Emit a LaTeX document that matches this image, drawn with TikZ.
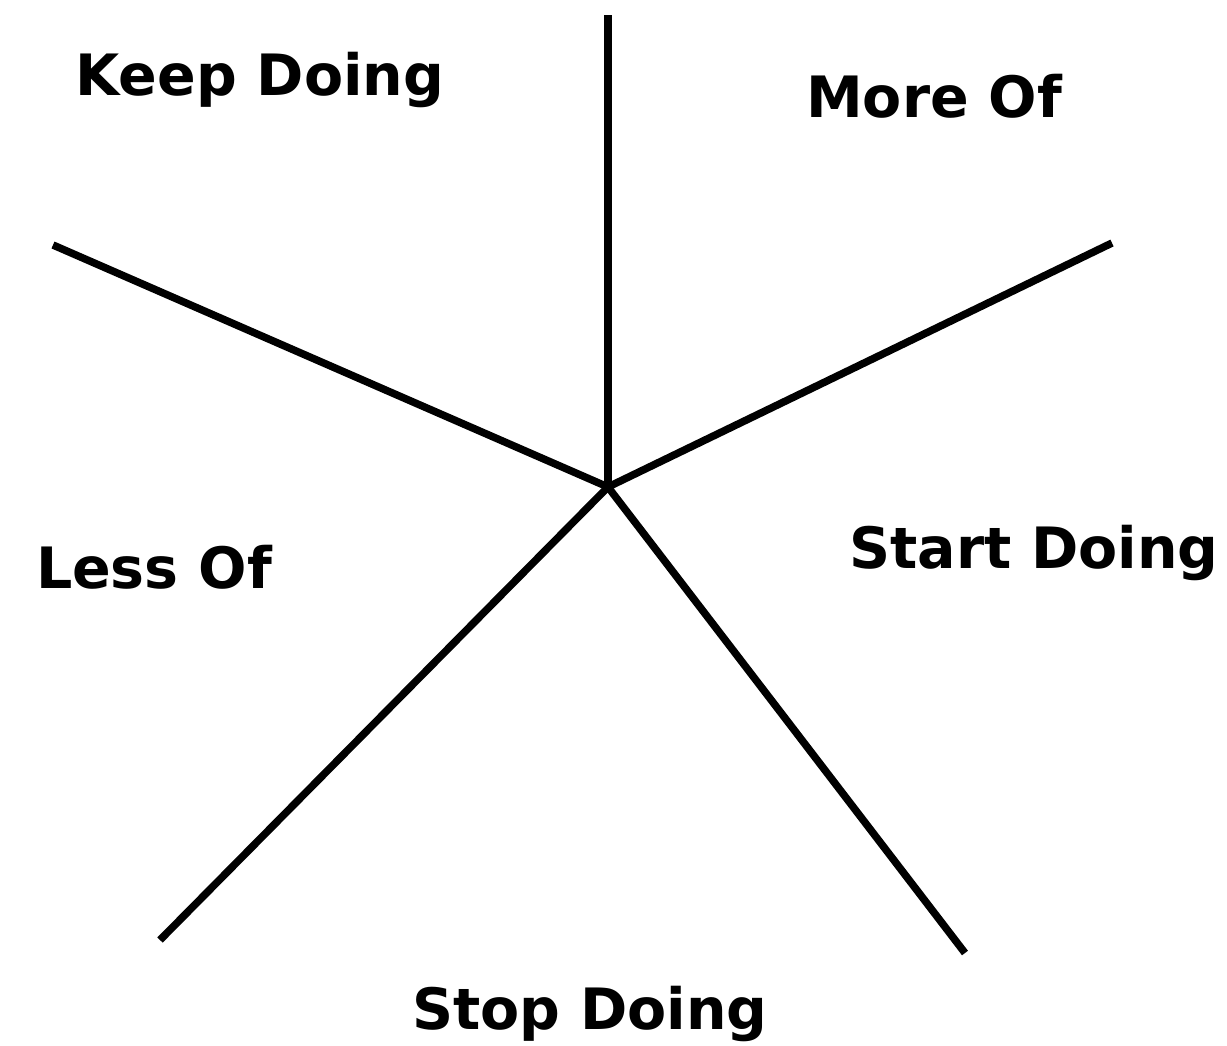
\documentclass[tikz,border=0pt]{standalone}
\usepackage{fontspec}
\setmainfont{DejaVu Sans}
\begin{document}
\begin{tikzpicture}[x=1pt,y=-1pt,
  spoke/.style={line width=7.5pt,black},
  lbl/.style={font=\fontsize{57}{62}\selectfont\bfseries,inner sep=0pt,anchor=center}]
\useasboundingbox[fill=white] (0,0) rectangle (1227,1045);
\coordinate (c) at (608,487);
\coordinate (t) at (608,15);
\coordinate (ur) at (1112,243);
\coordinate (ul) at (53,245);
\coordinate (ll) at (160,940);
\coordinate (lr) at (965,953);
\foreach \e in {t,ur,ul,ll,lr} \draw[spoke] (c) -- (\e);
\node[lbl] (keep) at (260,80) {Keep Doing};
\node[lbl] (more) at (934,96) {More Of};
\node[lbl] (start) at (1034,553) {Start Doing};
\node[lbl] (less) at (154,567) {Less Of};
\node[lbl] (stop) at (590,1014) {Stop Doing};
\end{tikzpicture}
\end{document}
